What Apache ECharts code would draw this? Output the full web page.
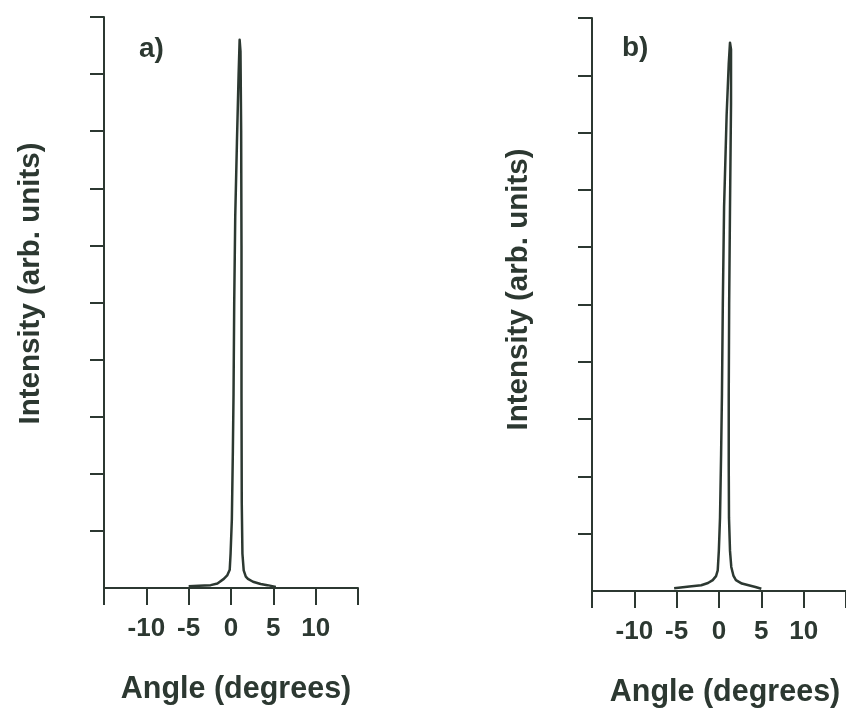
<!DOCTYPE html>
<html>
<head>
<meta charset="utf-8">
<script src="https://cdn.jsdelivr.net/npm/echarts@6/dist/echarts.min.js"></script>
<style>
html,body{margin:0;padding:0;background:#ffffff;}
#chart{width:846px;height:713px;}
</style>
</head>
<body>
<div id="chart"></div>
<script>
// Panel a) angle (degrees) and intensity (arb. units)
var angleA = [-5.0, -3.8, -2.4, -1.6, -0.85, -0.45, -0.15, -0.05, 0.1, 0.22, 0.3, 0.38, 0.5, 0.7, 0.9, 1.02, 1.12, 1.2, 1.24, 1.24, 1.27, 1.35, 1.5, 1.75, 2.0, 2.6, 3.5, 4.3, 5.3];
var intensityA = [0.03, 0.04, 0.05, 0.08, 0.16, 0.22, 0.32, 0.6, 1.2, 2.4, 3.4, 5.0, 6.5, 7.8, 9.0, 9.6, 9.4, 8.0, 6.0, 3.4, 1.5, 0.6, 0.31, 0.2, 0.16, 0.11, 0.07, 0.05, 0.02];
// Panel b)
var angleB = [-5.3, -3.5, -2.1, -1.3, -0.74, -0.35, -0.15, -0.02, 0.12, 0.25, 0.35, 0.45, 0.6, 0.9, 1.15, 1.3, 1.42, 1.42, 1.3, 1.2, 1.15, 1.15, 1.18, 1.3, 1.45, 1.7, 2.0, 2.7, 3.5, 4.3, 5.0];
var intensityB = [0.05, 0.08, 0.1, 0.14, 0.19, 0.26, 0.36, 0.7, 1.28, 2.4, 3.44, 5.0, 6.7, 8.3, 9.2, 9.57, 9.45, 8.5, 6.7, 5.0, 3.44, 2.2, 1.28, 0.7, 0.42, 0.27, 0.19, 0.13, 0.1, 0.07, 0.04];
// Axis ticks and labels
var xTickLabels = [-10, -5, 0, 5, 10];
var yTicks = [1, 2, 3, 4, 5, 6, 7, 8, 9, 10];
var panelLabels = ['a)', 'b)'];
var xName = 'Angle (degrees)';
var yName = 'Intensity (arb. units)';

function pairs(xs, ys) {
  return xs.map(function (x, i) { return [x, ys[i]]; });
}

var ink = '#2c3831';
var font = '"Liberation Sans", Arial, Helvetica, sans-serif';

function xAxisCfg(idx, namePad) {
  return {
    type: 'value', gridIndex: idx, min: -15, max: 15, interval: 5,
    name: xName, nameLocation: 'middle', nameGap: 86,
    nameTextStyle: { fontFamily: font, fontSize: 30.5, fontWeight: 'bold', color: ink, padding: namePad },
    axisLine: { show: true, onZero: false, lineStyle: { color: ink, width: 2 } },
    axisTick: { show: true, inside: false, length: 17, lineStyle: { color: ink, width: 2 } },
    axisLabel: { show: true, customValues: xTickLabels, margin: 28, fontFamily: font, fontSize: 26, fontWeight: 'bold', color: ink },
    splitLine: { show: false }
  };
}
function yAxisCfg(idx, namePad) {
  return {
    type: 'value', gridIndex: idx, min: 0, max: 10, interval: 1,
    name: yName, nameLocation: 'middle', nameGap: 58, nameRotate: 90,
    nameTextStyle: { fontFamily: font, fontSize: 29.5, fontWeight: 'bold', color: ink, padding: namePad },
    axisLine: { show: true, onZero: false, lineStyle: { color: ink, width: 2 } },
    axisTick: { show: true, inside: false, length: 14, customValues: yTicks, lineStyle: { color: ink, width: 2 } },
    axisLabel: { show: false },
    splitLine: { show: false }
  };
}

var chart = echarts.init(document.getElementById('chart'), null, { renderer: 'canvas' });
chart.setOption({
  backgroundColor: '#ffffff',
  animation: false,
  title: [
    { text: panelLabels[0], left: 134, top: 30, textStyle: { fontFamily: font, fontSize: 28, fontWeight: 'bold', color: ink } },
    { text: panelLabels[1], left: 617, top: 29, textStyle: { fontFamily: font, fontSize: 28, fontWeight: 'bold', color: ink } }
  ],
  grid: [
    { left: 104, top: 17, width: 254, height: 571 },
    { left: 592, top: 18, width: 254, height: 576 }
  ],
  xAxis: [xAxisCfg(0, [0, 0, 0, 10]), xAxisCfg(1, [0, 0, 0, 12])],
  yAxis: [yAxisCfg(0, [0, 0, 0, 38]), yAxisCfg(1, [0, 0, 0, 30])],
  series: [
    { type: 'line', xAxisIndex: 0, yAxisIndex: 0, data: pairs(angleA, intensityA), showSymbol: false, symbol: 'none',
      lineStyle: { color: ink, width: 2.5, join: 'round' } },
    { type: 'line', xAxisIndex: 1, yAxisIndex: 1, data: pairs(angleB, intensityB), showSymbol: false, symbol: 'none',
      lineStyle: { color: ink, width: 2.5, join: 'round' } }
  ]
});
</script>
</body>
</html>
